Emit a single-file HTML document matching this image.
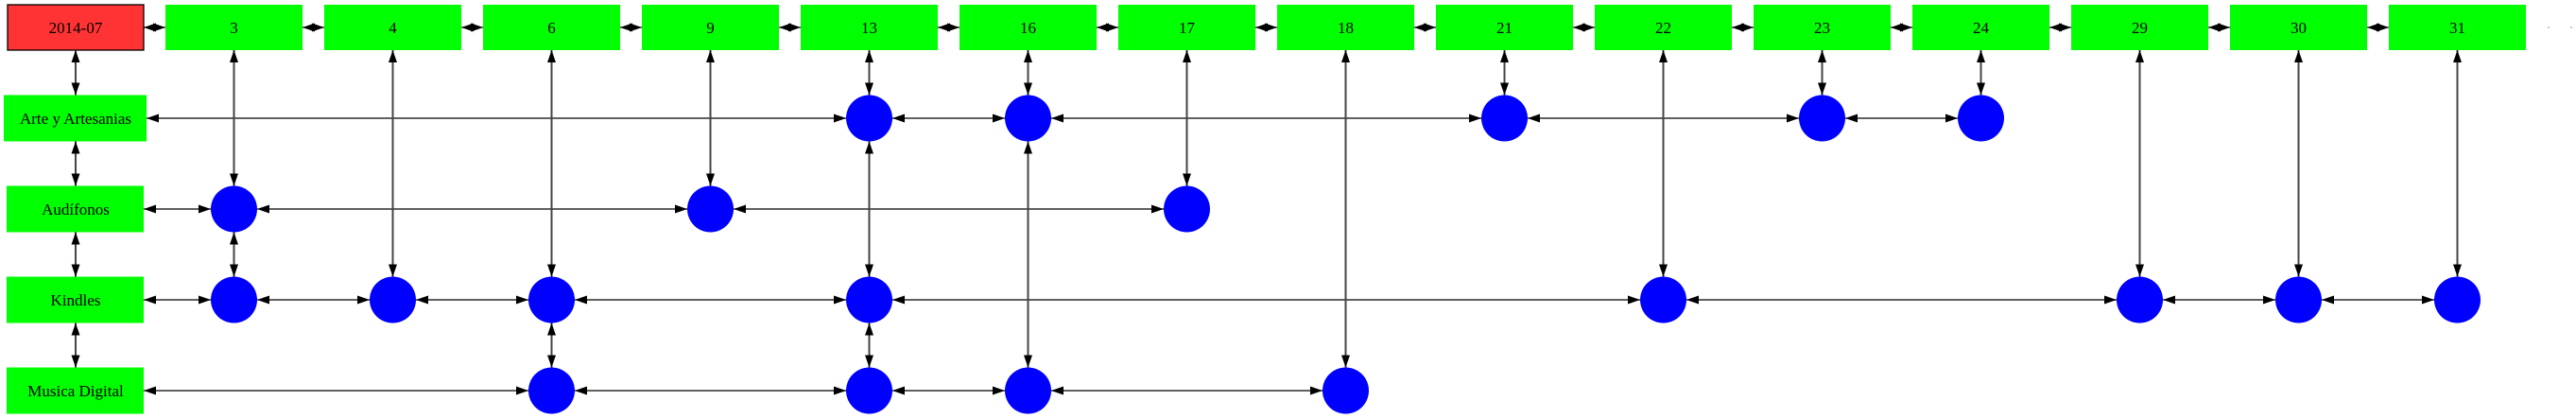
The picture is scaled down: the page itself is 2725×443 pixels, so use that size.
<!DOCTYPE html>
<html><head><meta charset="utf-8"><style>
html,body{margin:0;padding:0;background:#fff;}
svg{display:block;}
text{font-family:"Liberation Serif",serif;font-size:17px;fill:#000;text-anchor:middle;}
line{marker-start:url(#a);marker-end:url(#a);stroke:#000;stroke-width:1.3;}
line.v{stroke:#444;stroke-width:2;}
.b{fill:#00ff00;}
circle{fill:#0000ff;}
</style></head><body>
<svg xmlns="http://www.w3.org/2000/svg" width="2725" height="443" viewBox="0 0 2725 443">
<defs>
<marker id="a" markerUnits="userSpaceOnUse" markerWidth="14" markerHeight="10" refX="13" refY="5" orient="auto-start-reverse"><path d="M0,0.5 L13,5 L0,9.5 z" fill="#000"/></marker>
</defs>
<rect x="8" y="5" width="144" height="48" fill="#ff3333" stroke="#000" stroke-width="1.3"/>
<text x="80" y="35">2014-07</text>
<rect class="b" x="175" y="5" width="145" height="48"/><text x="247.5" y="35">3</text>
<rect class="b" x="343" y="5" width="145" height="48"/><text x="415.5" y="35">4</text>
<rect class="b" x="511" y="5" width="145" height="48"/><text x="583.5" y="35">6</text>
<rect class="b" x="679" y="5" width="145" height="48"/><text x="751.5" y="35">9</text>
<rect class="b" x="847" y="5" width="145" height="48"/><text x="919.5" y="35">13</text>
<rect class="b" x="1015" y="5" width="145" height="48"/><text x="1087.5" y="35">16</text>
<rect class="b" x="1183" y="5" width="145" height="48"/><text x="1255.5" y="35">17</text>
<rect class="b" x="1351" y="5" width="145" height="48"/><text x="1423.5" y="35">18</text>
<rect class="b" x="1519" y="5" width="145" height="48"/><text x="1591.5" y="35">21</text>
<rect class="b" x="1687" y="5" width="145" height="48"/><text x="1759.5" y="35">22</text>
<rect class="b" x="1855" y="5" width="145" height="48"/><text x="1927.5" y="35">23</text>
<rect class="b" x="2023" y="5" width="145" height="48"/><text x="2095.5" y="35">24</text>
<rect class="b" x="2191" y="5" width="145" height="48"/><text x="2263.5" y="35">29</text>
<rect class="b" x="2359" y="5" width="145" height="48"/><text x="2431.5" y="35">30</text>
<rect class="b" x="2527" y="5" width="145" height="48"/><text x="2599.5" y="35">31</text>
<circle cx="2696" cy="29" r="0.8" style="fill:#888"/><circle cx="2720" cy="29" r="0.8" style="fill:#888"/>
<line x1="152" y1="29" x2="175" y2="29"/>
<line x1="320" y1="29" x2="343" y2="29"/>
<line x1="488" y1="29" x2="511" y2="29"/>
<line x1="656" y1="29" x2="679" y2="29"/>
<line x1="824" y1="29" x2="847" y2="29"/>
<line x1="992" y1="29" x2="1015" y2="29"/>
<line x1="1160" y1="29" x2="1183" y2="29"/>
<line x1="1328" y1="29" x2="1351" y2="29"/>
<line x1="1496" y1="29" x2="1519" y2="29"/>
<line x1="1664" y1="29" x2="1687" y2="29"/>
<line x1="1832" y1="29" x2="1855" y2="29"/>
<line x1="2000" y1="29" x2="2023" y2="29"/>
<line x1="2168" y1="29" x2="2191" y2="29"/>
<line x1="2336" y1="29" x2="2359" y2="29"/>
<line x1="2504" y1="29" x2="2527" y2="29"/>
<rect class="b" x="4" y="100.5" width="151" height="49"/><text x="80" y="131">Arte y Artesanias</text>
<rect class="b" x="7" y="196.5" width="145" height="49"/><text x="80" y="227">Audífonos</text>
<rect class="b" x="7" y="292.5" width="145" height="49"/><text x="80" y="323">Kindles</text>
<rect class="b" x="7" y="388.5" width="145" height="49"/><text x="80" y="419">Musica Digital</text>
<line class="v" x1="80" y1="53" x2="80" y2="100.5"/>
<line class="v" x1="80" y1="149.5" x2="80" y2="196.5"/>
<line class="v" x1="80" y1="245.5" x2="80" y2="292.5"/>
<line class="v" x1="80" y1="341.5" x2="80" y2="388.5"/>
<line x1="155" y1="125" x2="895" y2="125"/>
<line x1="944" y1="125" x2="1063" y2="125"/>
<line x1="1112" y1="125" x2="1567" y2="125"/>
<line x1="1616" y1="125" x2="1903" y2="125"/>
<line x1="1952" y1="125" x2="2071" y2="125"/>
<line x1="152" y1="221" x2="223" y2="221"/>
<line x1="272" y1="221" x2="727" y2="221"/>
<line x1="776" y1="221" x2="1231" y2="221"/>
<line x1="152" y1="317" x2="223" y2="317"/>
<line x1="272" y1="317" x2="391" y2="317"/>
<line x1="440" y1="317" x2="559" y2="317"/>
<line x1="608" y1="317" x2="895" y2="317"/>
<line x1="944" y1="317" x2="1735" y2="317"/>
<line x1="1784" y1="317" x2="2239" y2="317"/>
<line x1="2288" y1="317" x2="2407" y2="317"/>
<line x1="2456" y1="317" x2="2575" y2="317"/>
<line x1="152" y1="413" x2="559" y2="413"/>
<line x1="608" y1="413" x2="895" y2="413"/>
<line x1="944" y1="413" x2="1063" y2="413"/>
<line x1="1112" y1="413" x2="1399" y2="413"/>
<line class="v" x1="247.5" y1="53" x2="247.5" y2="196.5"/>
<line class="v" x1="247.5" y1="245.5" x2="247.5" y2="292.5"/>
<line class="v" x1="415.5" y1="53" x2="415.5" y2="292.5"/>
<line class="v" x1="583.5" y1="53" x2="583.5" y2="292.5"/>
<line class="v" x1="583.5" y1="341.5" x2="583.5" y2="388.5"/>
<line class="v" x1="751.5" y1="53" x2="751.5" y2="196.5"/>
<line class="v" x1="919.5" y1="53" x2="919.5" y2="100.5"/>
<line class="v" x1="919.5" y1="149.5" x2="919.5" y2="292.5"/>
<line class="v" x1="919.5" y1="341.5" x2="919.5" y2="388.5"/>
<line class="v" x1="1087.5" y1="53" x2="1087.5" y2="100.5"/>
<line class="v" x1="1087.5" y1="149.5" x2="1087.5" y2="388.5"/>
<line class="v" x1="1255.5" y1="53" x2="1255.5" y2="196.5"/>
<line class="v" x1="1423.5" y1="53" x2="1423.5" y2="388.5"/>
<line class="v" x1="1591.5" y1="53" x2="1591.5" y2="100.5"/>
<line class="v" x1="1759.5" y1="53" x2="1759.5" y2="292.5"/>
<line class="v" x1="1927.5" y1="53" x2="1927.5" y2="100.5"/>
<line class="v" x1="2095.5" y1="53" x2="2095.5" y2="100.5"/>
<line class="v" x1="2263.5" y1="53" x2="2263.5" y2="292.5"/>
<line class="v" x1="2431.5" y1="53" x2="2431.5" y2="292.5"/>
<line class="v" x1="2599.5" y1="53" x2="2599.5" y2="292.5"/>
<circle cx="919.5" cy="125" r="24.5"/><circle cx="1087.5" cy="125" r="24.5"/><circle cx="1591.5" cy="125" r="24.5"/><circle cx="1927.5" cy="125" r="24.5"/><circle cx="2095.5" cy="125" r="24.5"/>
<circle cx="247.5" cy="221" r="24.5"/><circle cx="751.5" cy="221" r="24.5"/><circle cx="1255.5" cy="221" r="24.5"/>
<circle cx="247.5" cy="317" r="24.5"/><circle cx="415.5" cy="317" r="24.5"/><circle cx="583.5" cy="317" r="24.5"/><circle cx="919.5" cy="317" r="24.5"/><circle cx="1759.5" cy="317" r="24.5"/><circle cx="2263.5" cy="317" r="24.5"/><circle cx="2431.5" cy="317" r="24.5"/><circle cx="2599.5" cy="317" r="24.5"/>
<circle cx="583.5" cy="413" r="24.5"/><circle cx="919.5" cy="413" r="24.5"/><circle cx="1087.5" cy="413" r="24.5"/><circle cx="1423.5" cy="413" r="24.5"/>
</svg>
</body></html>
